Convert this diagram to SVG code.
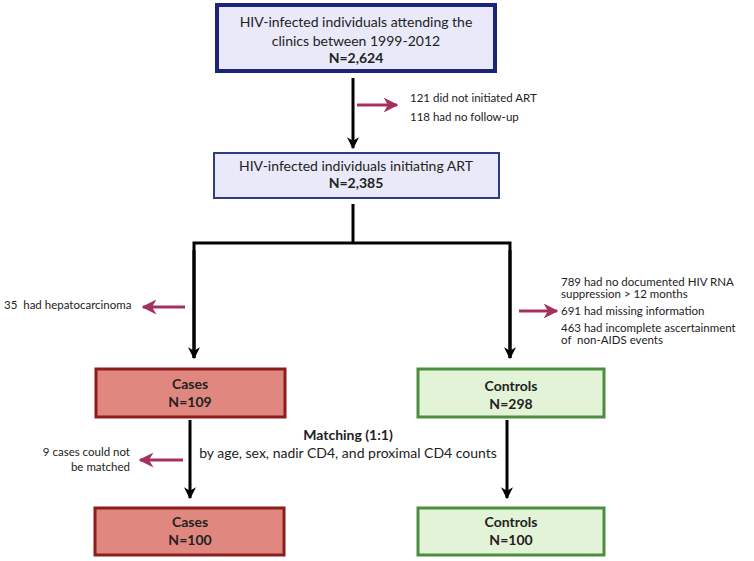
<svg xmlns="http://www.w3.org/2000/svg" width="754" height="561" viewBox="0 0 754 561">
<defs>
<marker id="blk" viewBox="0 0 10 10" refX="9" refY="5" markerWidth="4" markerHeight="4" orient="auto" markerUnits="strokeWidth"><path d="M0,0 L10,5 L0,10 L3,5 z" fill="#000"/></marker>
<marker id="red" viewBox="0 0 10 10" refX="9" refY="5" markerWidth="5" markerHeight="5" orient="auto" markerUnits="strokeWidth"><path d="M0,0 L10,5 L0,10 L3,5 z" fill="#a3305f"/></marker>
</defs>
<style>
text{font-family:Lato,"Open Sans","Liberation Sans",sans-serif;fill:#222}
.t{font-size:14px;text-anchor:middle}
.b{font-weight:bold}
.s{font-size:11.5px}
.k{stroke:#000;stroke-width:3;fill:none}
.r{stroke:#a3305f;stroke-width:3;fill:none}
.blue{fill:#e9e9f9}
.case{fill:#e08880;stroke:#8c1d1d;stroke-width:3}
.ctrl{fill:#e3f3d7;stroke:#4d8d3f;stroke-width:3}
</style>
<rect width="754" height="561" fill="#fff"/>
<g id="n1">
<rect class="blue" x="217" y="5" width="278" height="66" stroke="#1a2478" stroke-width="4"/>
<text class="t" x="356" y="27">HIV-infected individuals attending the</text>
<text class="t" x="356" y="46">clinics between 1999-2012</text>
<text class="t b" x="356" y="63">N=2,624</text>
</g>
<g id="n2">
<rect class="blue" x="214" y="153" width="285" height="45" stroke="#2c3f7c" stroke-width="2"/>
<text class="t" x="356" y="171">HIV-infected individuals initiating ART</text>
<text class="t b" x="356" y="188">N=2,385</text>
</g>
<g id="n3">
<rect class="case" x="96" y="369" width="189" height="48"/>
<text class="t b" x="190" y="389">Cases</text>
<text class="t b" x="190" y="407">N=109</text>
</g>
<g id="n4">
<rect class="ctrl" x="418" y="369" width="186" height="48"/>
<text class="t b" x="511" y="391">Controls</text>
<text class="t b" x="511" y="409">N=298</text>
</g>
<g id="n5">
<rect class="case" x="95" y="508" width="189" height="47"/>
<text class="t b" x="190" y="527">Cases</text>
<text class="t b" x="190" y="545">N=100</text>
</g>
<g id="n6">
<rect class="ctrl" x="418" y="508" width="186" height="47"/>
<text class="t b" x="511" y="527">Controls</text>
<text class="t b" x="511" y="545">N=100</text>
</g>
<g id="connectors">
<line class="k" x1="353" y1="78" x2="353" y2="148" marker-end="url(#blk)"/>
<line class="k" x1="353" y1="204" x2="353" y2="243"/>
<polyline class="k" points="194,358 194,243 510,243 510,358"/>
<line class="k" x1="194" y1="250" x2="194" y2="358" marker-end="url(#blk)"/>
<line class="k" x1="510" y1="250" x2="510" y2="358" marker-end="url(#blk)"/>
<line class="k" x1="190" y1="420" x2="190" y2="498" marker-end="url(#blk)"/>
<line class="k" x1="507" y1="420" x2="507" y2="498" marker-end="url(#blk)"/>
<line class="r" x1="357" y1="105" x2="397" y2="105" marker-end="url(#red)"/>
<line class="r" x1="185" y1="307" x2="143" y2="307" marker-end="url(#red)"/>
<line class="r" x1="519" y1="311" x2="557" y2="311" marker-end="url(#red)"/>
<line class="r" x1="183" y1="460" x2="140" y2="460" marker-end="url(#red)"/>
</g>
<g id="labels">
<text class="s" x="410" y="102">121 did not initiated ART</text>
<text class="s" x="410" y="121">118 had no follow-up</text>
<text class="s" x="4" y="309">35&#160; had hepatocarcinoma</text>
<text class="s" x="561" y="286">789 had no documented HIV RNA</text>
<text class="s" x="561" y="298">suppression &gt; 12 months</text>
<text class="s" x="561" y="315">691 had missing information</text>
<text class="s" x="561" y="332">463 had incomplete ascertainment</text>
<text class="s" x="561" y="344">of&#160; non-AIDS events</text>
<text class="s" x="130" y="456" text-anchor="end">9 cases could not</text>
<text class="s" x="130" y="471" text-anchor="end">be matched</text>
<text class="t b" x="348" y="440">Matching (1:1)</text>
<text class="t" x="348" y="458">by age, sex, nadir CD4, and proximal CD4 counts</text>
</g>
</svg>
